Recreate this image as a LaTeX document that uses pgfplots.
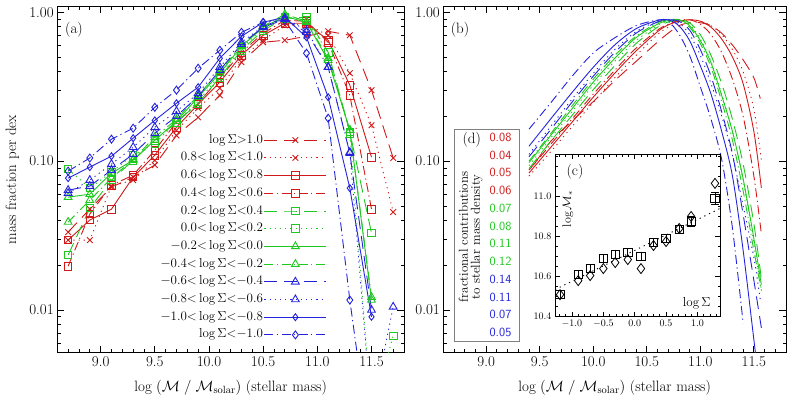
\RequirePackage{fix-cm}
\documentclass[border=0pt]{standalone}
\usepackage{fontspec}
\usepackage{pgfplots}
\pgfplotsset{compat=1.18}

\definecolor{cRed}{RGB}{210,25,25}
\definecolor{cRedSq}{rgb}{0.82,0.1,0.1}
\definecolor{cGreen}{RGB}{30,200,30}
\definecolor{cBlue}{RGB}{35,35,220}

\tikzset{
  sA/.style={dash pattern=on 13pt off 7pt},
  sB/.style={dash pattern=on 1.2pt off 4pt},
  sC/.style={solid},
  sD/.style={dash pattern=on 9pt off 3.5pt on 1.2pt off 3.5pt},
}

\pgfplotsset{
  longleg/.style={
    legend image code/.code={\draw[mark repeat=2,mark phase=2,##1] plot coordinates {(0pt,0pt) (31pt,0pt) (62pt,0pt)};}
  },
  binned/.style={
    cycle list={
      {draw=cRed, sA, mark=x, mark size=4pt, mark options={solid, draw=cRed}},
      {draw=cRed, sB, mark=x, mark size=4pt, mark options={solid, draw=cRed}},
      {draw=cRedSq, sC, mark=square, mark size=3.8pt, mark options={solid, draw=cRedSq}},
      {draw=cRedSq, sD, mark=square, mark size=3.8pt, mark options={solid, draw=cRedSq}},
      {draw=cGreen, sA, mark=square, mark size=3.8pt, mark options={solid, draw=cGreen}},
      {draw=cGreen, sB, mark=square, mark size=3.8pt, mark options={solid, draw=cGreen}},
      {draw=cGreen, sC, mark=triangle, mark size=4.5pt, mark options={solid, draw=cGreen}},
      {draw=cGreen, sD, mark=triangle, mark size=4.5pt, mark options={solid, draw=cGreen}},
      {draw=cBlue, sA, mark=triangle, mark size=4.5pt, mark options={solid, draw=cBlue}},
      {draw=cBlue, sB, mark=triangle, mark size=4.5pt, mark options={solid, draw=cBlue}},
      {draw=cBlue, sC, mark=diamond, mark size=3.5pt, mark options={solid, draw=cBlue}},
      {draw=cBlue, sD, mark=diamond, mark size=4pt, mark options={solid, draw=cBlue}}
    }
  },
}

\begin{document}
\begin{tikzpicture}[x=1pt,y=1pt]
\path[use as bounding box] (0,0) rectangle (789,399);

% ---------- (a) binned data ----------
\begin{axis}[at={(57.3pt,46.3pt)}, scale only axis, width=346.7pt, height=346.2pt,
  ymode=log, ymin=0.005167, ymax=1.094, xmin=8.6, xmax=11.8,
  xtick={9,9.5,10,10.5,11,11.5},
  xticklabels={9.0,9.5,10.0,10.5,11.0,11.5},
  minor xtick={8.7,8.8,8.9,9.1,9.2,9.3,9.4,9.6,9.7,9.8,9.9,10.1,10.2,10.3,10.4,10.6,10.7,10.8,10.9,11.1,11.2,11.3,11.4,11.6,11.7},
  ytick={0.01,0.1,1}, yticklabels={0.01,0.10,1.00},
  minor ytick={0.006,0.007,0.008,0.009,0.02,0.03,0.04,0.05,0.06,0.07,0.08,0.09,0.2,0.3,0.4,0.5,0.6,0.7,0.8,0.9},
  tick align=inside, major tick length=7pt, minor tick length=3.5pt,
  axis line style={line width=1pt},
  every tick/.style={black, line width=0.8pt},
  tick label style={font=\fontsize{15}{15}\selectfont},
  xlabel={$\log\;(\mathcal{M}\;/\;\mathcal{M}_{\mathrm{solar}})$ (stellar mass)},
  every axis x label/.style={at={(axis description cs:0.5,-0.1)}, anchor=center, font=\fontsize{15}{18}\selectfont},
  ylabel={mass fraction per dex},
  every axis y label/.style={at={(axis description cs:-0.13,0.5)}, rotate=90, anchor=center, font=\fontsize{15}{18}\selectfont},
  every axis plot/.append style={line width=0.9pt},
  binned,
  longleg,
  legend plot pos=right,
  legend cell align=right,
  legend style={at={(0.778,0.6346)}, anchor=north east, draw=none, fill=none,
    inner sep=0pt, font=\fontsize{13}{13}\selectfont, row sep=3.7pt,
    nodes={inner sep=1pt, text height=9pt, text depth=3pt}},
]
\addplot coordinates {
(8.7,0.0334)(8.9,0.0476)(9.1,0.0669)(9.3,0.0781)(9.5,0.094)(9.7,0.149)(9.9,0.197)(10.1,0.277)(10.3,0.462)(10.5,0.629)(10.7,0.649)(10.9,0.690)(11.1,0.746)(11.3,0.701)(11.5,0.300)(11.7,0.105)};
\addlegendentry{$\log\Sigma{>}1.0$}
\addplot coordinates {
(8.7,0.0295)(8.9,0.0295)(9.1,0.068)(9.3,0.0746)(9.5,0.1015)(9.7,0.161)(9.9,0.227)(10.1,0.309)(10.3,0.491)(10.5,0.649)(10.7,0.818)(10.9,0.831)(11.1,0.701)(11.3,0.390)(11.5,0.1745)(11.7,0.0455)};
\addlegendentry{$0.8{<}\log\Sigma{<}1.0$}
\addplot[color=cRedSq, sC, mark=square, mark size=3.8pt, mark options={solid}] coordinates {
(8.7,0.0295)(8.9,0.0402)(9.1,0.0476)(9.3,0.0781)(9.5,0.1097)(9.7,0.169)(9.9,0.241)(10.1,0.339)(10.3,0.515)(10.5,0.701)(10.7,0.844)(10.9,0.844)(11.1,0.649)(11.3,0.324)(11.5,0.1064)};
\addlegendentry{$0.6{<}\log\Sigma{<}0.8$}
\addplot[color=cRedSq, sD, mark=square, mark size=3.8pt, mark options={solid}] coordinates {
(8.7,0.0197)(8.9,0.0441)(9.1,0.069)(9.3,0.0805)(9.5,0.1185)(9.7,0.1827)(9.9,0.245)(10.1,0.361)(10.3,0.539)(10.5,0.723)(10.7,0.884)(10.9,0.870)(11.1,0.629)(11.3,0.277)(11.5,0.0476)};
\addlegendentry{$0.4{<}\log\Sigma{<}0.6$}
\addplot coordinates {
(8.7,0.0234)(8.9,0.0484)(9.1,0.0746)(9.3,0.1015)(9.5,0.1383)(9.7,0.1827)(9.9,0.245)(10.1,0.366)(10.3,0.556)(10.5,0.757)(10.7,0.911)(10.9,0.926)(11.1,0.539)(11.3,0.157)(11.5,0.0329)};
\addlegendentry{$0.2{<}\log\Sigma{<}0.4$}
\addplot coordinates {
(8.7,0.0884)(8.9,0.0659)(9.1,0.0844)(9.3,0.1097)(9.5,0.132)(9.7,0.1827)(9.9,0.253)(10.1,0.378)(10.3,0.573)(10.5,0.781)(10.7,0.926)(10.9,0.884)(11.1,0.539)(11.3,0.154)(11.5,0.002)(11.7,0.0067)};
\addlegendentry{$0.0{<}\log\Sigma{<}0.2$}
\addplot coordinates {
(8.7,0.0573)(8.9,0.060)(9.1,0.0831)(9.3,0.1015)(9.5,0.1383)(9.7,0.1856)(9.9,0.269)(10.1,0.390)(10.3,0.591)(10.5,0.793)(10.7,0.940)(10.9,0.857)(11.1,0.476)(11.3,0.1614)(11.5,0.01167)};
\addlegendentry{${-}0.2{<}\log\Sigma{<}0.0$}
\addplot coordinates {
(8.7,0.039)(8.9,0.0547)(9.1,0.0769)(9.3,0.1031)(9.5,0.1449)(9.7,0.191)(9.9,0.277)(10.1,0.402)(10.3,0.600)(10.5,0.806)(10.7,0.970)(10.9,0.870)(11.1,0.491)(11.3,0.1614)(11.5,0.0122)};
\addlegendentry{${-}0.4{<}\log\Sigma{<}{-}0.2$}
\addplot coordinates {
(8.7,0.0639)(8.9,0.068)(9.1,0.0871)(9.3,0.1114)(9.5,0.154)(9.7,0.2005)(9.9,0.273)(10.1,0.408)(10.3,0.610)(10.5,0.793)(10.7,0.898)(10.9,0.734)(11.1,0.428)(11.3,0.1132)(11.5,0.0100)};
\addlegendentry{${-}0.6{<}\log\Sigma{<}{-}0.4$}
\addplot coordinates {
(8.7,0.061)(8.9,0.0746)(9.1,0.0955)(9.3,0.124)(9.5,0.169)(9.7,0.2165)(9.9,0.286)(10.1,0.428)(10.3,0.629)(10.5,0.806)(10.7,0.911)(10.9,0.757)(11.1,0.428)(11.3,0.1149)(11.5,0.002)(11.7,0.0105)};
\addlegendentry{${-}0.8{<}\log\Sigma{<}{-}0.6$}
\addplot coordinates {
(8.7,0.0769)(8.9,0.0912)(9.1,0.108)(9.3,0.1427)(9.5,0.188)(9.7,0.245)(9.9,0.314)(10.1,0.491)(10.3,0.690)(10.5,0.857)(10.7,0.926)(10.9,0.680)(11.1,0.269)(11.3,0.0659)(11.5,0.0090)};
\addlegendentry{${-}1.0{<}\log\Sigma{<}{-}0.8$}
\addplot coordinates {
(8.7,0.0857)(8.9,0.105)(9.1,0.1405)(9.3,0.1665)(9.5,0.230)(9.7,0.300)(9.9,0.421)(10.1,0.556)(10.3,0.734)(10.5,0.857)(10.7,0.884)(10.9,0.531)(11.1,0.1944)(11.3,0.01167)(11.5,0.001)};
\addlegendentry{$\log\Sigma{<}{-}1.0$}
\end{axis}
\node[font=\fontsize{15}{15}\selectfont] at (74,369) {(a)};

% ---------- (b) fitted curves ----------
\begin{axis}[at={(443.3pt,46.3pt)}, scale only axis, width=342.7pt, height=346.2pt,
  ymode=log, ymin=0.005167, ymax=1.094, xmin=8.6, xmax=11.8,
  xtick={9,9.5,10,10.5,11,11.5},
  xticklabels={9.0,9.5,10.0,10.5,11.0,11.5},
  minor xtick={8.7,8.8,8.9,9.1,9.2,9.3,9.4,9.6,9.7,9.8,9.9,10.1,10.2,10.3,10.4,10.6,10.7,10.8,10.9,11.1,11.2,11.3,11.4,11.6,11.7},
  ytick={0.01,0.1,1}, yticklabels={0.01,0.10,1.00},
  minor ytick={0.006,0.007,0.008,0.009,0.02,0.03,0.04,0.05,0.06,0.07,0.08,0.09,0.2,0.3,0.4,0.5,0.6,0.7,0.8,0.9},
  tick align=inside, major tick length=7pt, minor tick length=3.5pt,
  axis line style={line width=1pt},
  every tick/.style={black, line width=0.8pt},
  tick label style={font=\fontsize{15}{15}\selectfont},
  xlabel={$\log\;(\mathcal{M}\;/\;\mathcal{M}_{\mathrm{solar}})$ (stellar mass)},
  every axis x label/.style={at={(axis description cs:0.5,-0.1)}, anchor=center, font=\fontsize{15}{18}\selectfont},
  every axis plot/.append style={line width=0.9pt},
]
\addplot[color=cRed, sA, smooth] coordinates {(9.45,0.0955)(9.6,0.135)(9.8,0.186)(10.0,0.251)(10.2,0.347)(10.4,0.468)(10.6,0.631)(10.7,0.724)(10.8,0.813)(10.9,0.851)(11.0,0.851)(11.1,0.813)(11.2,0.724)(11.3,0.603)(11.4,0.479)(11.5,0.363)(11.56,0.263)};
\addplot[color=cRed, sB, smooth] coordinates {(9.4,0.0794)(9.6,0.115)(9.8,0.170)(10.0,0.248)(10.2,0.363)(10.4,0.513)(10.6,0.708)(10.7,0.794)(10.8,0.851)(10.9,0.891)(11.0,0.871)(11.1,0.813)(11.2,0.708)(11.3,0.562)(11.4,0.398)(11.5,0.224)(11.57,0.102)};
\addplot[color=cRed, sC, smooth] coordinates {(9.4,0.0832)(9.6,0.123)(9.8,0.182)(10.0,0.269)(10.2,0.389)(10.4,0.550)(10.6,0.741)(10.7,0.822)(10.8,0.871)(10.9,0.891)(11.0,0.871)(11.1,0.794)(11.2,0.661)(11.3,0.501)(11.4,0.331)(11.5,0.158)(11.57,0.0661)};
\addplot[color=cRed, sD, smooth] coordinates {(9.4,0.0871)(9.6,0.129)(9.8,0.191)(10.0,0.282)(10.2,0.407)(10.4,0.575)(10.6,0.759)(10.7,0.832)(10.8,0.881)(10.9,0.891)(11.0,0.832)(11.1,0.708)(11.2,0.537)(11.3,0.355)(11.4,0.200)(11.5,0.0794)(11.57,0.0324)};
\addplot[color=cGreen, sA, smooth] coordinates {(9.4,0.0891)(9.6,0.135)(9.8,0.202)(10.0,0.302)(10.2,0.437)(10.4,0.617)(10.6,0.794)(10.7,0.861)(10.8,0.891)(10.9,0.851)(11.0,0.708)(11.1,0.513)(11.2,0.331)(11.3,0.191)(11.4,0.0955)(11.5,0.0380)(11.57,0.0162)};
\addplot[color=cGreen, sB, smooth] coordinates {(9.4,0.0933)(9.6,0.142)(9.8,0.214)(10.0,0.324)(10.2,0.468)(10.4,0.646)(10.6,0.813)(10.7,0.871)(10.8,0.891)(10.9,0.832)(11.0,0.661)(11.1,0.468)(11.2,0.282)(11.3,0.158)(11.4,0.0741)(11.5,0.0282)(11.57,0.0135)};
\addplot[color=cGreen, sC, smooth] coordinates {(9.4,0.0977)(9.6,0.148)(9.8,0.224)(10.0,0.339)(10.2,0.490)(10.4,0.676)(10.6,0.832)(10.7,0.881)(10.8,0.891)(10.9,0.813)(11.0,0.646)(11.1,0.457)(11.2,0.275)(11.3,0.158)(11.4,0.0759)(11.5,0.0302)(11.57,0.0148)};
\addplot[color=cGreen, sD, smooth] coordinates {(9.4,0.100)(9.6,0.152)(9.8,0.234)(10.0,0.355)(10.2,0.513)(10.4,0.692)(10.6,0.851)(10.7,0.891)(10.8,0.891)(10.9,0.794)(11.0,0.617)(11.1,0.427)(11.2,0.251)(11.3,0.138)(11.4,0.0631)(11.5,0.0251)(11.57,0.0135)};
\addplot[color=cBlue, sA, smooth] coordinates {(9.4,0.107)(9.6,0.162)(9.8,0.248)(10.0,0.372)(10.2,0.537)(10.4,0.724)(10.6,0.861)(10.7,0.891)(10.8,0.871)(10.9,0.759)(11.0,0.562)(11.1,0.372)(11.2,0.214)(11.3,0.112)(11.4,0.0437)(11.5,0.0158)(11.57,0.00759)};
\addplot[color=cBlue, sB, smooth] coordinates {(9.4,0.111)(9.6,0.170)(9.8,0.260)(10.0,0.389)(10.2,0.562)(10.4,0.741)(10.6,0.871)(10.7,0.891)(10.8,0.851)(10.9,0.708)(11.0,0.513)(11.1,0.331)(11.2,0.200)(11.3,0.110)(11.4,0.0501)(11.5,0.0224)(11.56,0.0117)};
\addplot[color=cBlue, sC, smooth] coordinates {(9.4,0.126)(9.6,0.191)(9.8,0.288)(10.0,0.427)(10.2,0.603)(10.4,0.776)(10.6,0.881)(10.7,0.891)(10.8,0.813)(10.9,0.646)(11.0,0.437)(11.1,0.282)(11.2,0.158)(11.3,0.0794)(11.4,0.0251)(11.5,0.00631)(11.55,0.00316)};
\addplot[color=cBlue, sD, smooth] coordinates {(9.4,0.164)(9.6,0.245)(9.8,0.370)(10.0,0.533)(10.2,0.673)(10.4,0.813)(10.6,0.887)(10.7,0.871)(10.8,0.716)(10.9,0.513)(11.0,0.316)(11.1,0.191)(11.2,0.102)(11.3,0.0355)(11.4,0.00813)};
\end{axis}
\node[font=\fontsize{15}{15}\selectfont] at (460,369) {(b)};

% ---------- (d) fractional contributions ----------
\draw[gray, line width=1pt, fill=white] (454.3,58) rectangle (519,269);
\node[font=\fontsize{15}{15}\selectfont] at (471.7,259) {(d)};
\node[rotate=90, align=center, font=\fontsize{13}{12}\selectfont] at (470.5,162) {fractional contributions\\to stellar mass density};
\foreach \v/\c [count=\i from 0] in {0.08/cRed,0.04/cRed,0.05/cRed,0.06/cRed,0.07/cGreen,0.08/cGreen,0.11/cGreen,0.12/cGreen,0.14/cBlue,0.11/cBlue,0.07/cBlue,0.05/cBlue}
  \node[text=\c, font=\sffamily\fontsize{12.5}{12.5}\selectfont] at (500.5,261.7-17.75*\i) {\v};

% ---------- (c) inset ----------
\begin{axis}[at={(555pt,82.3pt)}, scale only axis, width=165pt, height=162.4pt,
  xmin=-1.27, xmax=1.36, ymin=10.4, ymax=11.21,
  xtick={-1,-0.5,0,0.5,1}, xticklabels={$-1.0$,$-0.5$,$0.0$,$0.5$,$1.0$},
  minor xtick={-1.2,-1.1,-0.9,-0.8,-0.7,-0.6,-0.4,-0.3,-0.2,-0.1,0.1,0.2,0.3,0.4,0.6,0.7,0.8,0.9,1.1,1.2,1.3},
  ytick={10.4,10.6,10.8,11.0}, yticklabels={10.4,10.6,10.8,11.0},
  minor ytick={10.45,10.5,10.55,10.65,10.7,10.75,10.85,10.9,10.95,11.05,11.1,11.15,11.2},
  tick align=inside, major tick length=5pt, minor tick length=2.5pt,
  every tick/.style={black, line width=0.7pt},
  tick label style={font=\fontsize{10}{10}\selectfont},
  axis line style={line width=1pt},
  axis background/.style={fill=white},
]
\addplot[black, line width=0.9pt, dash pattern=on 1.2pt off 4pt] coordinates {(-1.27,10.535) (1.36,10.94)};
\addplot[black, only marks, mark=square, mark size=4.2pt, line width=0.8pt,
  error bars/.cd, y dir=both, y explicit, error bar style={line width=0.8pt}] coordinates {
(-1.19,10.51) +- (0,0.02)
(-0.90,10.61) +- (0,0.02)
(-0.71,10.64) +- (0,0.02)
(-0.50,10.69) +- (0,0.02)
(-0.31,10.71) +- (0,0.02)
(-0.11,10.72) +- (0,0.02)
(0.10,10.70) +- (0,0.02)
(0.30,10.77) +- (0,0.02)
(0.50,10.79) +- (0,0.02)
(0.71,10.835) +- (0,0.02)
(0.90,10.875) +- (0,0.025)
(1.28,10.99) +- (0,0.03)};
\addplot[black, only marks, mark=diamond, mark size=5pt, line width=0.8pt] coordinates {
(-1.19,10.51)(-0.90,10.58)(-0.71,10.605)(-0.50,10.64)(-0.31,10.67)(-0.11,10.685)(0.10,10.64)(0.30,10.755)(0.50,10.775)(0.71,10.84)(0.90,10.90)(1.28,11.065)};
\end{axis}
\node[font=\fontsize{15}{15}\selectfont] at (575,227.3) {(c)};
\node[rotate=90, font=\fontsize{12}{12}\selectfont] at (568,190) {$\log\mathcal{M}_*$};
\node[font=\fontsize{13}{13}\selectfont] at (696.7,95.7) {$\log\Sigma$};
\end{tikzpicture}
\end{document}
